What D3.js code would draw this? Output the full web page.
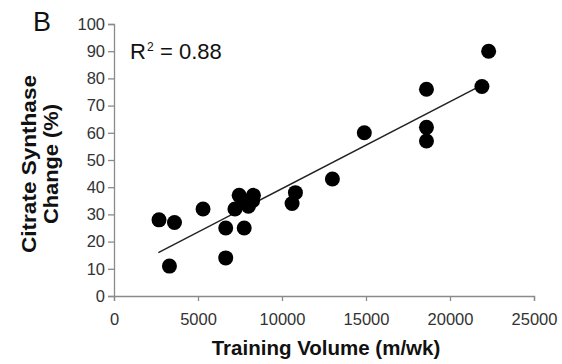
<!DOCTYPE html>
<html>
<head>
<meta charset="utf-8">
<script src="https://cdn.jsdelivr.net/npm/d3@7"></script>
<style>
  html, body { margin: 0; padding: 0; background: #fff; }
  svg { display: block; font-family: "Liberation Sans", Arial, sans-serif; }
</style>
</head>
<body>
<svg id="chart" width="562" height="364"></svg>
<script>
// Training volume (m/wk) versus citrate synthase change (%)
const trainingVolume = [2680, 3600, 3300, 5300, 6650, 7750, 6650, 7200, 7450, 8300, 8000, 7800, 8250,
                        10800, 10600, 13000, 14900, 18600, 18600, 18600, 21900, 22300];
const csChange       = [28, 27, 11, 32, 25, 25, 14, 32, 37, 37, 33, 35, 35,
                        38, 34, 43, 60, 76, 62, 57, 77, 90];
const xTicks = [0, 5000, 10000, 15000, 20000, 25000];
const yTicks = [0, 10, 20, 30, 40, 50, 60, 70, 80, 90, 100];
const fitRange = [2640, 21900];
const panelLabel = "B";
const rSquaredLabel = "0.88";

const svg = d3.select("#chart");
const x = d3.scaleLinear().domain([0, 25000]).range([114, 534]);
const y = d3.scaleLinear().domain([0, 100]).range([296, 24]);

// least-squares trend line
const n = trainingVolume.length;
const mx = d3.mean(trainingVolume), my = d3.mean(csChange);
let sxy = 0, sxx = 0;
for (let i = 0; i < n; i++) {
  sxy += (trainingVolume[i] - mx) * (csChange[i] - my);
  sxx += (trainingVolume[i] - mx) ** 2;
}
const slope = sxy / sxx, intercept = my - slope * mx;

// axes
const axisColor = "#8a8a8a";
const xAxis = svg.append("g").attr("transform", "translate(0,296)")
  .call(d3.axisBottom(x).tickValues(xTicks).tickFormat(d3.format("d")).tickSizeOuter(0).tickSize(5).tickPadding(12));
const yAxis = svg.append("g").attr("transform", "translate(114,0)")
  .call(d3.axisLeft(y).tickValues(yTicks).tickSizeOuter(0).tickSize(6).tickPadding(3));
[xAxis, yAxis].forEach(a => {
  a.select(".domain").attr("stroke", axisColor).attr("stroke-width", 1.3);
  a.selectAll(".tick line").attr("stroke", axisColor).attr("stroke-width", 1.3);
  a.selectAll(".tick text").attr("fill", "#333").style("font-size", "16.5px")
    .style("font-family", "'Liberation Sans', Arial, sans-serif");
});

// trend line
svg.append("line")
  .attr("x1", x(fitRange[0])).attr("y1", y(slope * fitRange[0] + intercept))
  .attr("x2", x(fitRange[1])).attr("y2", y(slope * fitRange[1] + intercept))
  .attr("stroke", "#222").attr("stroke-width", 1.5);

// points
svg.append("g").selectAll("circle")
  .data(trainingVolume.map((v, i) => [v, csChange[i]]))
  .join("circle")
  .attr("cx", d => x(d[0])).attr("cy", d => y(d[1])).attr("r", 7.5)
  .attr("fill", "#000");

// titles
svg.append("text").attr("x", 33).attr("y", 31).text(panelLabel)
  .style("font-size", "27px").attr("fill", "#111");

const r2 = svg.append("text").attr("y", 59).attr("fill", "#111").style("font-size", "22px");
r2.append("tspan").attr("x", 130).text("R");
r2.append("tspan").attr("x", 147).attr("y", 51).style("font-size", "12px").text("2");
r2.append("tspan").attr("x", 160).attr("y", 59).text("= " + rSquaredLabel);

svg.append("text").attr("x", 326).attr("y", 355).attr("text-anchor", "middle")
  .style("font-size", "20.5px").style("font-weight", "bold").attr("fill", "#111")
  .text("Training Volume (m/wk)");

const yt = svg.append("text").attr("transform", "translate(0,164) rotate(-90)")
  .attr("text-anchor", "middle").style("font-size", "19.5px").style("font-weight", "bold").attr("fill", "#111");
yt.append("tspan").attr("x", 0).attr("y", 36).attr("textLength", 178).attr("lengthAdjust", "spacingAndGlyphs")
  .text("Citrate Synthase");
yt.append("tspan").attr("x", 0).attr("y", 58).attr("textLength", 120).attr("lengthAdjust", "spacingAndGlyphs")
  .text("Change (%)");
</script>
</body>
</html>
